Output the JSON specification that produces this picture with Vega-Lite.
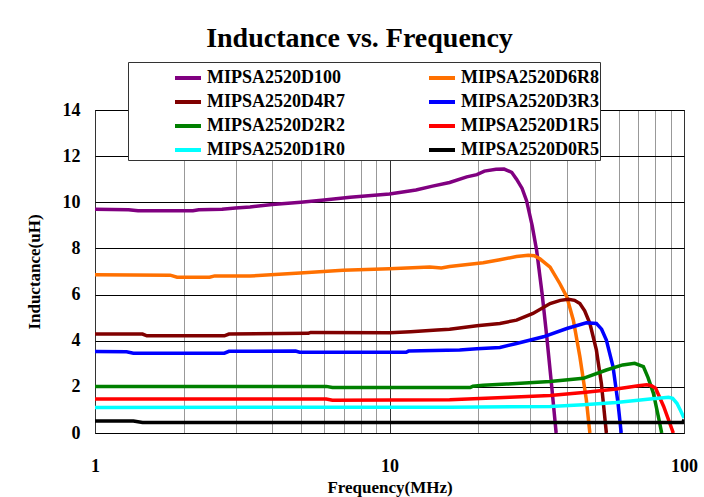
{
  "$schema": "https://vega.github.io/schema/vega-lite/v6.json",
  "width": 589,
  "height": 323,
  "autosize": {"type": "none"},
  "padding": {"left": 95, "top": 110, "right": 20, "bottom": 64},
  "background": "white",
  "title": {
    "text": "Inductance vs. Frequency",
    "font": "Liberation Serif",
    "fontSize": 28,
    "fontWeight": "bold",
    "color": "black",
    "anchor": "middle",
    "dx": -30,
    "offset": 9
  },
  "config": {
    "view": {"stroke": "black", "strokeWidth": 1},
    "font": "Liberation Serif"
  },
  "datasets": {
    "curves": [
      {"s": "MIPSA2520D100", "f": 1, "L": 9.70},
      {"s": "MIPSA2520D100", "f": 1.3, "L": 9.68},
      {"s": "MIPSA2520D100", "f": 1.4, "L": 9.63},
      {"s": "MIPSA2520D100", "f": 1.8, "L": 9.63},
      {"s": "MIPSA2520D100", "f": 2.15, "L": 9.63},
      {"s": "MIPSA2520D100", "f": 2.25, "L": 9.68},
      {"s": "MIPSA2520D100", "f": 2.7, "L": 9.70},
      {"s": "MIPSA2520D100", "f": 3.0, "L": 9.75},
      {"s": "MIPSA2520D100", "f": 3.36, "L": 9.80},
      {"s": "MIPSA2520D100", "f": 4, "L": 9.90},
      {"s": "MIPSA2520D100", "f": 5, "L": 10.0},
      {"s": "MIPSA2520D100", "f": 6, "L": 10.1},
      {"s": "MIPSA2520D100", "f": 7.35, "L": 10.22},
      {"s": "MIPSA2520D100", "f": 10, "L": 10.36},
      {"s": "MIPSA2520D100", "f": 12.3, "L": 10.53},
      {"s": "MIPSA2520D100", "f": 14, "L": 10.7},
      {"s": "MIPSA2520D100", "f": 16, "L": 10.86},
      {"s": "MIPSA2520D100", "f": 18.3, "L": 11.1},
      {"s": "MIPSA2520D100", "f": 19.8, "L": 11.2},
      {"s": "MIPSA2520D100", "f": 21, "L": 11.35},
      {"s": "MIPSA2520D100", "f": 23, "L": 11.43},
      {"s": "MIPSA2520D100", "f": 24.5, "L": 11.44},
      {"s": "MIPSA2520D100", "f": 26, "L": 11.3},
      {"s": "MIPSA2520D100", "f": 27, "L": 11.0},
      {"s": "MIPSA2520D100", "f": 28.2, "L": 10.6},
      {"s": "MIPSA2520D100", "f": 29.2, "L": 10.07},
      {"s": "MIPSA2520D100", "f": 30.5, "L": 9.0},
      {"s": "MIPSA2520D100", "f": 31.6, "L": 7.91},
      {"s": "MIPSA2520D100", "f": 33, "L": 6.0},
      {"s": "MIPSA2520D100", "f": 34.2, "L": 4.17},
      {"s": "MIPSA2520D100", "f": 35.5, "L": 2.1},
      {"s": "MIPSA2520D100", "f": 36.8, "L": 0},

      {"s": "MIPSA2520D6R8", "f": 1, "L": 6.86},
      {"s": "MIPSA2520D6R8", "f": 1.8, "L": 6.84},
      {"s": "MIPSA2520D6R8", "f": 1.9, "L": 6.75},
      {"s": "MIPSA2520D6R8", "f": 2.45, "L": 6.75},
      {"s": "MIPSA2520D6R8", "f": 2.55, "L": 6.81},
      {"s": "MIPSA2520D6R8", "f": 3.36, "L": 6.80},
      {"s": "MIPSA2520D6R8", "f": 4.97, "L": 6.94},
      {"s": "MIPSA2520D6R8", "f": 6.95, "L": 7.05},
      {"s": "MIPSA2520D6R8", "f": 10, "L": 7.12},
      {"s": "MIPSA2520D6R8", "f": 13.7, "L": 7.19},
      {"s": "MIPSA2520D6R8", "f": 15, "L": 7.15},
      {"s": "MIPSA2520D6R8", "f": 16, "L": 7.22},
      {"s": "MIPSA2520D6R8", "f": 20.8, "L": 7.38},
      {"s": "MIPSA2520D6R8", "f": 23.7, "L": 7.51},
      {"s": "MIPSA2520D6R8", "f": 27, "L": 7.65},
      {"s": "MIPSA2520D6R8", "f": 29.6, "L": 7.70},
      {"s": "MIPSA2520D6R8", "f": 31, "L": 7.68},
      {"s": "MIPSA2520D6R8", "f": 32.4, "L": 7.55},
      {"s": "MIPSA2520D6R8", "f": 35.1, "L": 7.19},
      {"s": "MIPSA2520D6R8", "f": 37.9, "L": 6.47},
      {"s": "MIPSA2520D6R8", "f": 40, "L": 5.9},
      {"s": "MIPSA2520D6R8", "f": 42.1, "L": 4.89},
      {"s": "MIPSA2520D6R8", "f": 44.3, "L": 3.31},
      {"s": "MIPSA2520D6R8", "f": 46.6, "L": 1.44},
      {"s": "MIPSA2520D6R8", "f": 47.9, "L": 0},

      {"s": "MIPSA2520D4R7", "f": 1, "L": 4.29},
      {"s": "MIPSA2520D4R7", "f": 1.45, "L": 4.29},
      {"s": "MIPSA2520D4R7", "f": 1.5, "L": 4.21},
      {"s": "MIPSA2520D4R7", "f": 2.75, "L": 4.21},
      {"s": "MIPSA2520D4R7", "f": 2.85, "L": 4.29},
      {"s": "MIPSA2520D4R7", "f": 5.3, "L": 4.32},
      {"s": "MIPSA2520D4R7", "f": 5.4, "L": 4.36},
      {"s": "MIPSA2520D4R7", "f": 10, "L": 4.35},
      {"s": "MIPSA2520D4R7", "f": 11.8, "L": 4.39},
      {"s": "MIPSA2520D4R7", "f": 14.5, "L": 4.46},
      {"s": "MIPSA2520D4R7", "f": 16, "L": 4.5},
      {"s": "MIPSA2520D4R7", "f": 19.8, "L": 4.65},
      {"s": "MIPSA2520D4R7", "f": 23.7, "L": 4.75},
      {"s": "MIPSA2520D4R7", "f": 27, "L": 4.89},
      {"s": "MIPSA2520D4R7", "f": 30.7, "L": 5.18},
      {"s": "MIPSA2520D4R7", "f": 35.1, "L": 5.61},
      {"s": "MIPSA2520D4R7", "f": 38, "L": 5.75},
      {"s": "MIPSA2520D4R7", "f": 40.5, "L": 5.80},
      {"s": "MIPSA2520D4R7", "f": 42.5, "L": 5.75},
      {"s": "MIPSA2520D4R7", "f": 44.3, "L": 5.61},
      {"s": "MIPSA2520D4R7", "f": 46, "L": 5.3},
      {"s": "MIPSA2520D4R7", "f": 47.9, "L": 4.75},
      {"s": "MIPSA2520D4R7", "f": 50.4, "L": 3.6},
      {"s": "MIPSA2520D4R7", "f": 52.4, "L": 2.16},
      {"s": "MIPSA2520D4R7", "f": 54.5, "L": 0},

      {"s": "MIPSA2520D3R3", "f": 1, "L": 3.53},
      {"s": "MIPSA2520D3R3", "f": 1.28, "L": 3.52},
      {"s": "MIPSA2520D3R3", "f": 1.35, "L": 3.46},
      {"s": "MIPSA2520D3R3", "f": 2.75, "L": 3.46},
      {"s": "MIPSA2520D3R3", "f": 2.85, "L": 3.54},
      {"s": "MIPSA2520D3R3", "f": 4.8, "L": 3.55},
      {"s": "MIPSA2520D3R3", "f": 4.95, "L": 3.50},
      {"s": "MIPSA2520D3R3", "f": 11.4, "L": 3.50},
      {"s": "MIPSA2520D3R3", "f": 11.6, "L": 3.55},
      {"s": "MIPSA2520D3R3", "f": 17.3, "L": 3.6},
      {"s": "MIPSA2520D3R3", "f": 19.8, "L": 3.65},
      {"s": "MIPSA2520D3R3", "f": 23.7, "L": 3.71},
      {"s": "MIPSA2520D3R3", "f": 27, "L": 3.88},
      {"s": "MIPSA2520D3R3", "f": 33.3, "L": 4.17},
      {"s": "MIPSA2520D3R3", "f": 40, "L": 4.53},
      {"s": "MIPSA2520D3R3", "f": 46.6, "L": 4.78},
      {"s": "MIPSA2520D3R3", "f": 50.4, "L": 4.75},
      {"s": "MIPSA2520D3R3", "f": 52.5, "L": 4.5},
      {"s": "MIPSA2520D3R3", "f": 54.5, "L": 4.03},
      {"s": "MIPSA2520D3R3", "f": 57.4, "L": 2.88},
      {"s": "MIPSA2520D3R3", "f": 59.7, "L": 1.29},
      {"s": "MIPSA2520D3R3", "f": 61.2, "L": 0},

      {"s": "MIPSA2520D2R2", "f": 1, "L": 2.02},
      {"s": "MIPSA2520D2R2", "f": 6.1, "L": 2.02},
      {"s": "MIPSA2520D2R2", "f": 6.4, "L": 1.97},
      {"s": "MIPSA2520D2R2", "f": 18.8, "L": 1.97},
      {"s": "MIPSA2520D2R2", "f": 19.2, "L": 2.03},
      {"s": "MIPSA2520D2R2", "f": 20.8, "L": 2.07},
      {"s": "MIPSA2520D2R2", "f": 25, "L": 2.12},
      {"s": "MIPSA2520D2R2", "f": 35.1, "L": 2.23},
      {"s": "MIPSA2520D2R2", "f": 45.5, "L": 2.37},
      {"s": "MIPSA2520D2R2", "f": 54.5, "L": 2.73},
      {"s": "MIPSA2520D2R2", "f": 61.9, "L": 2.95},
      {"s": "MIPSA2520D2R2", "f": 68, "L": 3.02},
      {"s": "MIPSA2520D2R2", "f": 72.8, "L": 2.88},
      {"s": "MIPSA2520D2R2", "f": 75.5, "L": 2.4},
      {"s": "MIPSA2520D2R2", "f": 78.7, "L": 1.73},
      {"s": "MIPSA2520D2R2", "f": 81.8, "L": 0.72},
      {"s": "MIPSA2520D2R2", "f": 84, "L": 0},

      {"s": "MIPSA2520D1R5", "f": 1, "L": 1.47},
      {"s": "MIPSA2520D1R5", "f": 6.1, "L": 1.47},
      {"s": "MIPSA2520D1R5", "f": 6.4, "L": 1.42},
      {"s": "MIPSA2520D1R5", "f": 16, "L": 1.44},
      {"s": "MIPSA2520D1R5", "f": 25.6, "L": 1.55},
      {"s": "MIPSA2520D1R5", "f": 35.1, "L": 1.63},
      {"s": "MIPSA2520D1R5", "f": 45.5, "L": 1.76},
      {"s": "MIPSA2520D1R5", "f": 58.9, "L": 1.91},
      {"s": "MIPSA2520D1R5", "f": 70, "L": 2.05},
      {"s": "MIPSA2520D1R5", "f": 74.7, "L": 2.09},
      {"s": "MIPSA2520D1R5", "f": 77.5, "L": 2.05},
      {"s": "MIPSA2520D1R5", "f": 80.1, "L": 1.94},
      {"s": "MIPSA2520D1R5", "f": 85.3, "L": 1.15},
      {"s": "MIPSA2520D1R5", "f": 92, "L": 0},

      {"s": "MIPSA2520D1R0", "f": 1, "L": 1.11},
      {"s": "MIPSA2520D1R0", "f": 16, "L": 1.12},
      {"s": "MIPSA2520D1R0", "f": 35.1, "L": 1.15},
      {"s": "MIPSA2520D1R0", "f": 45.5, "L": 1.22},
      {"s": "MIPSA2520D1R0", "f": 58.9, "L": 1.32},
      {"s": "MIPSA2520D1R0", "f": 76.7, "L": 1.47},
      {"s": "MIPSA2520D1R0", "f": 88.6, "L": 1.55},
      {"s": "MIPSA2520D1R0", "f": 91.5, "L": 1.5},
      {"s": "MIPSA2520D1R0", "f": 94.6, "L": 1.29},
      {"s": "MIPSA2520D1R0", "f": 97.5, "L": 0.95},
      {"s": "MIPSA2520D1R0", "f": 100, "L": 0.65},

      {"s": "MIPSA2520D0R5", "f": 1, "L": 0.52},
      {"s": "MIPSA2520D0R5", "f": 1.35, "L": 0.52},
      {"s": "MIPSA2520D0R5", "f": 1.45, "L": 0.46},
      {"s": "MIPSA2520D0R5", "f": 99, "L": 0.46},
      {"s": "MIPSA2520D0R5", "f": 100, "L": 0.58}
    ]
  },
  "data": {"name": "curves"},
  "mark": {"type": "line", "strokeWidth": 3.5, "clip": true, "interpolate": "linear"},
  "encoding": {
    "x": {
      "field": "f",
      "type": "quantitative",
      "scale": {"type": "log", "domain": [1, 100], "nice": false},
      "axis": {
        "title": "Frequency(MHz)",
        "values": [1, 2, 3, 4, 5, 6, 7, 8, 9, 10, 20, 30, 40, 50, 60, 70, 80, 90, 100],
        "format": "d",
        "labelExpr": "datum.value == 1 || datum.value == 10 || datum.value == 100 ? datum.label : ''",
        "labelFlush": false,
        "labelOverlap": false,
        "labelPadding": 24,
        "labelFont": "Liberation Serif",
        "labelFontSize": 18,
        "labelFontWeight": "bold",
        "labelColor": "black",
        "titleFont": "Liberation Serif",
        "titleFontSize": 17,
        "titleFontWeight": "bold",
        "titleColor": "black",
        "titlePadding": 4,
        "ticks": false,
        "domain": false,
        "grid": true,
        "gridOpacity": 1,
        "gridColor": {"condition": {"test": "datum.value == 1 || datum.value == 10 || datum.value == 100", "value": "#333333"}, "value": "#999999"},
        "gridWidth": 1
      }
    },
    "y": {
      "field": "L",
      "type": "quantitative",
      "scale": {"domain": [0, 14], "nice": false},
      "axis": {
        "title": "Inductance(uH)",
        "values": [0, 2, 4, 6, 8, 10, 12, 14],
        "labelPadding": 15,
        "labelFont": "Liberation Serif",
        "labelFontSize": 18,
        "labelFontWeight": "bold",
        "labelColor": "black",
        "titleFont": "Liberation Serif",
        "titleFontSize": 17,
        "titleFontWeight": "bold",
        "titleColor": "black",
        "titlePadding": 19,
        "ticks": false,
        "domain": false,
        "grid": true,
        "gridColor": "black",
        "gridOpacity": 1,
        "gridWidth": 1
      }
    },
    "color": {
      "field": "s",
      "type": "nominal",
      "scale": {
        "domain": ["MIPSA2520D100", "MIPSA2520D6R8", "MIPSA2520D4R7", "MIPSA2520D3R3", "MIPSA2520D2R2", "MIPSA2520D1R5", "MIPSA2520D1R0", "MIPSA2520D0R5"],
        "range": ["#800080", "#FF7000", "#800000", "#0000FF", "#008000", "#FF0000", "#00FFFF", "#000000"]
      },
      "legend": {
        "title": null,
        "orient": "none",
        "direction": "horizontal",
        "legendX": 33,
        "legendY": -48,
        "columns": 2,
        "symbolType": "stroke",
        "symbolSize": 676,
        "symbolStrokeWidth": 4,
        "symbolOffset": 44,
        "labelOffset": 4,
        "labelFont": "Liberation Serif",
        "labelFontSize": 18,
        "labelFontWeight": "bold",
        "labelColor": "black",
        "labelLimit": 400,
        "columnPadding": 38,
        "rowPadding": -1,
        "padding": 1,
        "strokeColor": "#333333",
        "fillColor": "white"
      }
    }
  }
}
